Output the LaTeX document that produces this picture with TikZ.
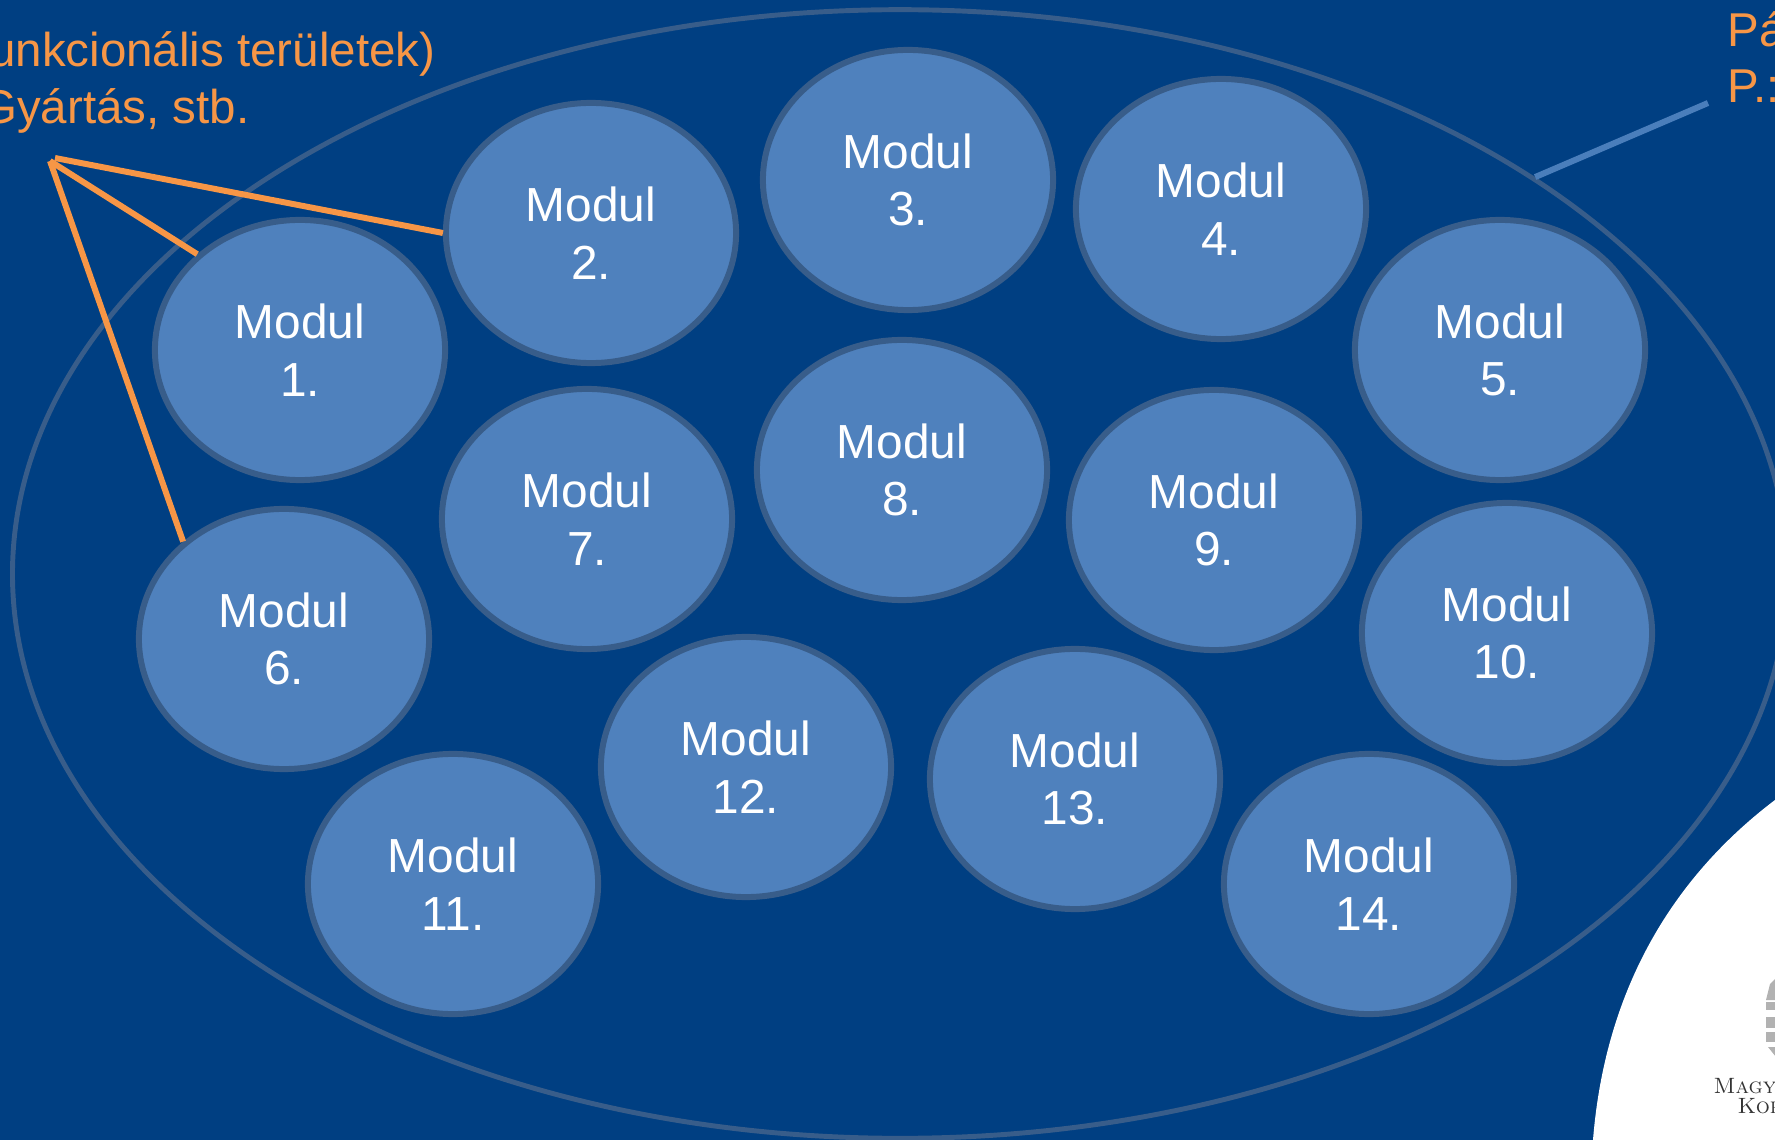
\documentclass[tikz,border=0pt]{standalone}
\usepackage{fontspec}
\setsansfont{Liberation Sans}
\usetikzlibrary{shapes}
\definecolor{hatter}{HTML}{003F82}
\definecolor{modulkek}{HTML}{4F81BD}
\definecolor{keret}{HTML}{385D8A}
\definecolor{vonalkek}{HTML}{4A7EBB}
\definecolor{narancs}{HTML}{F79646}
\tikzset{
  modul/.style={ellipse,draw=keret,fill=modulkek,line width=1.7pt,minimum width=2.9cm,minimum height=2.6cm,inner sep=0pt,align=center,text=white,font=\sffamily\fontsize{13.6}{16.4}\selectfont},
  felirat/.style={text=narancs,inner sep=0pt,font=\sffamily\fontsize{13.5}{16.2}\selectfont},
  narancsvonal/.style={color=narancs,line width=1.7pt},
  logofelirat/.style={anchor=base west,inner sep=0pt,text=black!80,font=\rmfamily\scshape\fontsize{6.3}{8}\selectfont},
}
\begin{document}
\begin{tikzpicture}[x=0.01cm,y=-0.01cm]
\useasboundingbox (0,0) rectangle (1775,1140);
\fill [color=hatter] (0,0) rectangle (1775,1140);
\fill [color=white] (1775,800) .. controls (1672,878) and (1605,990) .. (1593,1140) -- (1775,1140) -- cycle;
\node [ellipse,draw=keret,line width=1.4pt,minimum width=17.74cm,minimum height=11.28cm,inner sep=0pt] (park) at (900,574) {};
\node [modul] (m1) at (300,350) {Modul\\1.};
\node [modul] (m2) at (591,233) {Modul\\2.};
\node [modul] (m3) at (908,180) {Modul\\3.};
\node [modul] (m4) at (1221,209) {Modul\\4.};
\node [modul] (m5) at (1500,350) {Modul\\5.};
\node [modul] (m6) at (284,639) {Modul\\6.};
\node [modul] (m7) at (587,519) {Modul\\7.};
\node [modul] (m8) at (902,470) {Modul\\8.};
\node [modul] (m9) at (1214,520) {Modul\\9.};
\node [modul] (m10) at (1507,633) {Modul\\10.};
\node [modul] (m11) at (453,884) {Modul\\11.};
\node [modul] (m12) at (746,767) {Modul\\12.};
\node [modul] (m13) at (1075,779) {Modul\\13.};
\node [modul] (m14) at (1369,884) {Modul\\14.};
\node [felirat,anchor=base east] (fej1) at (436,67) {unkcionális területek)};
\node [felirat,anchor=base east] (fej2) at (250,124) {Gyártás, stb.};
\node [felirat,anchor=base west] (jobb1) at (1727,47) {Pá};
\node [felirat,anchor=base west] (jobb2) at (1727,103) {P.:};
\coordinate (fan1) at (55,158);
\coordinate (fan2) at (50,161);
\coordinate (kek) at (1708,103);
\draw [narancsvonal] (fan1) -- (m2.west);
\draw [narancsvonal] (fan2) -- (m1.137);
\draw [narancsvonal] (fan2) -- (m6.136);
\draw [color=vonalkek,line width=1.7pt] (kek) -- (park.32.6);
% cimer a jobb szelen
\fill [color=gray!60] (1776,978) -- (1770,984) -- (1766,1000) -- (1776,1000) -- cycle;
\fill [color=gray!60] (1766,1002) rectangle (1776,1010);
\fill [color=gray!60] (1766,1017) rectangle (1776,1028);
\fill [color=gray!60] (1766,1032) rectangle (1776,1042);
\fill [color=gray!60] (1768,1047) -- (1776,1047) -- (1776,1057) -- cycle;
\node [logofelirat] (logo1) at (1713,1093) {Magya};
\node [logofelirat] (logo2) at (1737,1113) {Kor};
\end{tikzpicture}
\end{document}
